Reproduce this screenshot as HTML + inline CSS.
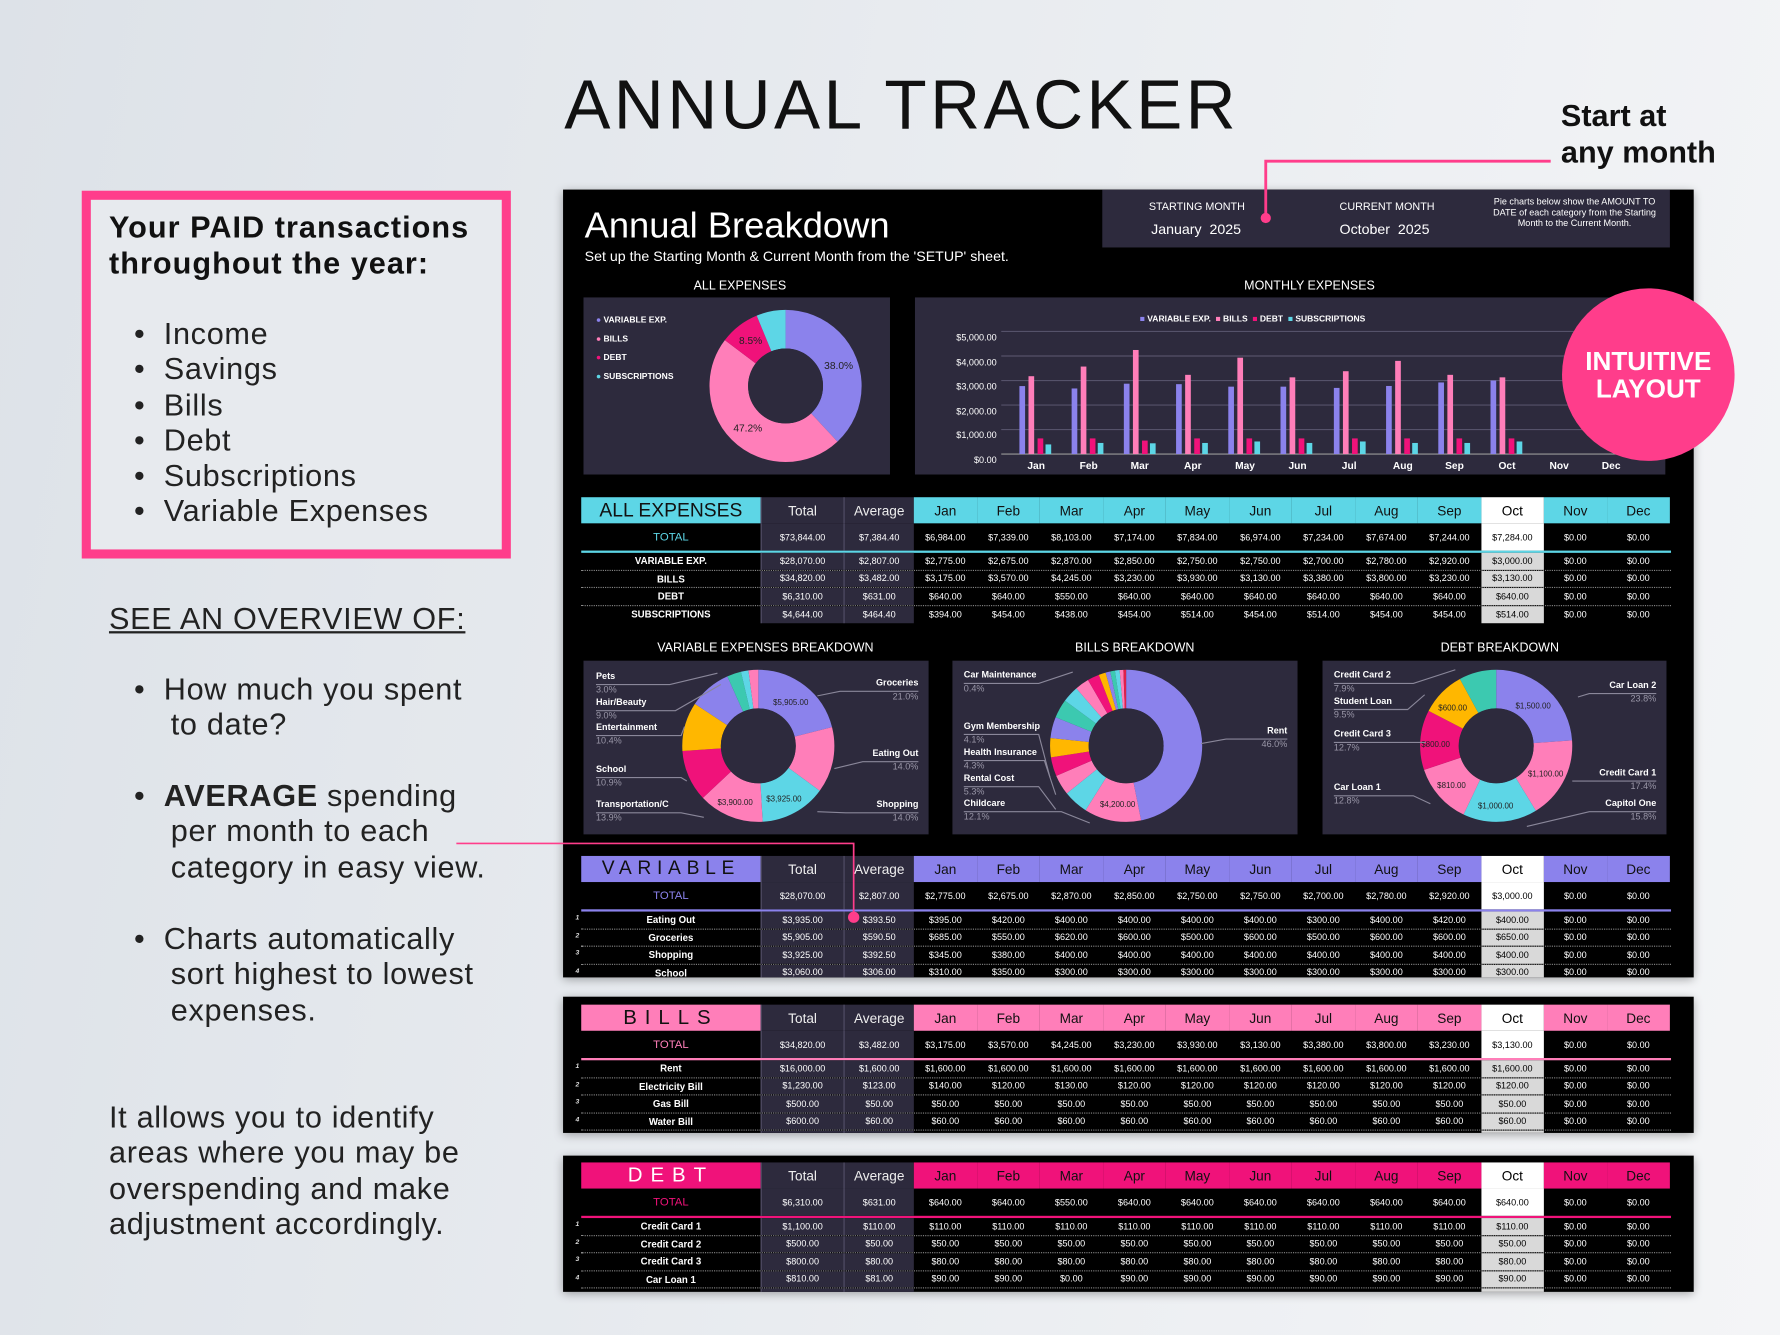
<!DOCTYPE html>
<html><head><meta charset="utf-8"><style>
*{margin:0;padding:0;box-sizing:border-box}
html,body{width:1780px;height:1335px;overflow:hidden}
body{background:linear-gradient(100deg,#dde2e8 0%,#e9ecf0 50%,#f4f5f7 100%);font-family:"Liberation Sans",sans-serif}
#w{position:absolute;left:0;top:0;width:1568px;height:1176px;transform:scale(1.1352);transform-origin:0 0}
.a{position:absolute;white-space:nowrap}
.pan{position:absolute;left:496px;width:996px;background:#000;overflow:hidden;box-shadow:0 2px 8px rgba(0,0,0,.35)}
.lt{color:#fff}
.sec{position:absolute;left:16px;width:960px}
.r{display:grid;grid-template-columns:158px 73px 62px repeat(12,55.5px);font-size:8px;color:#fff;text-align:center}
.r>*{display:flex;align-items:center;justify-content:center;font-style:normal;font-weight:normal}
.r>i{background:#2d2a3d;border-left:1px solid #55516a}
.r>b{font-weight:bold}
.r>:nth-child(13){background:#d9d9d9;color:#000}
.h{height:23px;font-size:12px}
.h>*{background:var(--c);color:#111}
.h>i{color:#eee}
.h>:nth-child(13){background:#fff;color:#000}
.t{height:24px}
.t>:nth-child(13){background:#fff;color:#000}
.t>b{color:var(--c);font-weight:normal;font-size:10px}
.ln{height:2px;background:var(--c)}
.d{height:15.5px;border-bottom:1px dotted #888;position:relative}
.d>b{font-size:8.5px}
.n{position:absolute;left:-5px;top:3px;font-size:6px;color:#ddd}
.lb{position:absolute;font-size:8px;font-weight:bold;color:#fff;white-space:nowrap}
.pc{position:absolute;font-size:8px;color:#9a97a8;white-space:nowrap}
.rt{text-align:right}
.lt27{font-size:27px;line-height:31.3px;color:#222;letter-spacing:0.6px}
</style></head><body><div id="w">

<div class="a" style="left:497px;top:57px;font-size:61px;letter-spacing:3px;color:#111;font-weight:normal">ANNUAL TRACKER</div>
<div class="a" style="left:1375px;top:86px;font-size:27px;font-weight:bold;line-height:32px;color:#111">Start at<br>any month</div>

<div class="a" style="left:72px;top:168px;width:378px;height:324px;border:8px solid #ff3d8b;background:#e7eaee"></div>
<div class="a" style="left:96px;top:184px;font-size:27px;font-weight:bold;line-height:32px;color:#111;letter-spacing:0.9px">Your PAID transactions<br>throughout the year:</div>
<div class="a lt27" style="left:118px;top:279px">•&nbsp; Income<br>•&nbsp; Savings<br>•&nbsp; Bills<br>•&nbsp; Debt<br>•&nbsp; Subscriptions<br>•&nbsp; Variable Expenses</div>
<div class="a lt27" style="left:96px;top:530px;text-decoration:underline">SEE AN OVERVIEW OF:</div>
<div class="a lt27" style="left:118px;top:592px">•&nbsp; How much you spent<br>&nbsp;&nbsp;&nbsp;&nbsp;to date?</div>
<div class="a lt27" style="left:118px;top:686px">•&nbsp; <b>AVERAGE</b> spending<br>&nbsp;&nbsp;&nbsp;&nbsp;per month to each<br>&nbsp;&nbsp;&nbsp;&nbsp;category in easy view.</div>
<div class="a lt27" style="left:118px;top:812px">•&nbsp; Charts automatically<br>&nbsp;&nbsp;&nbsp;&nbsp;sort highest to lowest<br>&nbsp;&nbsp;&nbsp;&nbsp;expenses.</div>
<div class="a lt27" style="left:96px;top:969px">It allows you to identify<br>areas where you may be<br>overspending and make<br>adjustment accordingly.</div>

<!-- PANEL 1 -->
<div class="pan" style="top:167px;height:694px">
 <div class="a lt" style="left:19px;top:13px;font-size:32px">Annual Breakdown</div>
 <div class="a lt" style="left:19px;top:52px;font-size:12.5px">Set up the Starting Month &amp; Current Month from the 'SETUP' sheet.</div>
 <div class="a" style="left:475px;top:0;width:500px;height:51px;background:#2d2a3d"></div>
 <div class="a lt" style="left:516px;top:10px;font-size:9.5px">STARTING MONTH</div>
 <div class="a lt" style="left:518px;top:28px;font-size:12.5px">January&nbsp; 2025</div>
 <div class="a lt" style="left:684px;top:10px;font-size:9.5px">CURRENT MONTH</div>
 <div class="a lt" style="left:684px;top:28px;font-size:12.5px">October&nbsp; 2025</div>
 <div class="a lt" style="left:811px;top:6px;width:160px;font-size:8px;line-height:9.5px;text-align:center;white-space:normal">Pie charts below show the AMOUNT TO DATE of each category from the Starting Month to the Current Month.</div>
 <div class="a lt" style="left:115px;top:79px;font-size:11px">ALL EXPENSES</div>
 <div class="a lt" style="left:600px;top:79px;font-size:11px">MONTHLY EXPENSES</div>
 <div class="a" style="left:18px;top:95px;width:270px;height:156px;background:#2d2a3d"></div>
 <div class="a" style="left:310px;top:95px;width:661px;height:156px;background:#2d2a3d"></div>
 <div class="a lt" style="left:29px;top:107px;font-size:7.5px;font-weight:bold;line-height:16.7px"><span style="color:#8b82ec">●</span> VARIABLE EXP.<br><span style="color:#ff7eb9">●</span> BILLS<br><span style="color:#f0127a">●</span> DEBT<br><span style="color:#5dd6e6">●</span> SUBSCRIPTIONS</div>
 <div class="a lt" style="left:508px;top:109px;font-size:7.5px;font-weight:bold"><span style="color:#8b82ec">■</span> VARIABLE EXP.&nbsp;&nbsp;<span style="color:#ff7eb9">■</span> BILLS&nbsp;&nbsp;<span style="color:#f0127a">■</span> DEBT&nbsp;&nbsp;<span style="color:#5dd6e6">■</span> SUBSCRIPTIONS</div>
 <div class="a lt rt" style="left:322px;top:120px;width:60px;font-size:8px;line-height:21.6px">$5,000.00<br>$4,000.00<br>$3,000.00<br>$2,000.00<br>$1,000.00<br>$0.00</div>
 <div class="a lt" style="left:0;top:238px;font-size:9px;font-weight:bold;width:1000px">
  <span class="a" style="left:409px">Jan</span><span class="a" style="left:455px">Feb</span><span class="a" style="left:500px">Mar</span><span class="a" style="left:547px">Apr</span><span class="a" style="left:592px">May</span><span class="a" style="left:639px">Jun</span><span class="a" style="left:686px">Jul</span><span class="a" style="left:731px">Aug</span><span class="a" style="left:777px">Sep</span><span class="a" style="left:824px">Oct</span><span class="a" style="left:869px">Nov</span><span class="a" style="left:915px">Dec</span>
 </div>

 <div class="sec" style="top:271px;--c:#5dd6e6">
  <div class="r h"><b style="font-size:17px;font-weight:normal">ALL EXPENSES</b><i>Total</i><i>Average</i><span>Jan</span><span>Feb</span><span>Mar</span><span>Apr</span><span>May</span><span>Jun</span><span>Jul</span><span>Aug</span><span>Sep</span><span>Oct</span><span>Nov</span><span>Dec</span></div>
  <div class="r t"><b>TOTAL</b><i>$73,844.00</i><i>$7,384.40</i><span>$6,984.00</span><span>$7,339.00</span><span>$8,103.00</span><span>$7,174.00</span><span>$7,834.00</span><span>$6,974.00</span><span>$7,234.00</span><span>$7,674.00</span><span>$7,244.00</span><span>$7,284.00</span><span>$0.00</span><span>$0.00</span></div>
  <div class="ln"></div>
  <div class="r d"><b>VARIABLE EXP.</b><i>$28,070.00</i><i>$2,807.00</i><span>$2,775.00</span><span>$2,675.00</span><span>$2,870.00</span><span>$2,850.00</span><span>$2,750.00</span><span>$2,750.00</span><span>$2,700.00</span><span>$2,780.00</span><span>$2,920.00</span><span>$3,000.00</span><span>$0.00</span><span>$0.00</span></div>
  <div class="r d"><b>BILLS</b><i>$34,820.00</i><i>$3,482.00</i><span>$3,175.00</span><span>$3,570.00</span><span>$4,245.00</span><span>$3,230.00</span><span>$3,930.00</span><span>$3,130.00</span><span>$3,380.00</span><span>$3,800.00</span><span>$3,230.00</span><span>$3,130.00</span><span>$0.00</span><span>$0.00</span></div>
  <div class="r d"><b>DEBT</b><i>$6,310.00</i><i>$631.00</i><span>$640.00</span><span>$640.00</span><span>$550.00</span><span>$640.00</span><span>$640.00</span><span>$640.00</span><span>$640.00</span><span>$640.00</span><span>$640.00</span><span>$640.00</span><span>$0.00</span><span>$0.00</span></div>
  <div class="r d" style="border-bottom:none"><b>SUBSCRIPTIONS</b><i>$4,644.00</i><i>$464.40</i><span>$394.00</span><span>$454.00</span><span>$438.00</span><span>$454.00</span><span>$514.00</span><span>$454.00</span><span>$514.00</span><span>$454.00</span><span>$454.00</span><span>$514.00</span><span>$0.00</span><span>$0.00</span></div>
 </div>

 <div class="a lt" style="left:83px;top:398px;font-size:11px">VARIABLE EXPENSES BREAKDOWN</div>
 <div class="a lt" style="left:451px;top:398px;font-size:11px">BILLS BREAKDOWN</div>
 <div class="a lt" style="left:773px;top:398px;font-size:11px">DEBT BREAKDOWN</div>
 <div class="a" style="left:18px;top:415px;width:304px;height:153px;background:#2d2a3d"></div>
 <div class="a" style="left:343px;top:415px;width:304px;height:153px;background:#2d2a3d"></div>
 <div class="a" style="left:669px;top:415px;width:303px;height:153px;background:#2d2a3d"></div>

 <div class="sec" style="top:587px;--c:#8b82ec">
  <div class="r h"><b style="font-size:17px;font-weight:normal;letter-spacing:5px;align-items:flex-start;padding-top:1px">VARIABLE</b><i>Total</i><i>Average</i><span>Jan</span><span>Feb</span><span>Mar</span><span>Apr</span><span>May</span><span>Jun</span><span>Jul</span><span>Aug</span><span>Sep</span><span>Oct</span><span>Nov</span><span>Dec</span></div>
  <div class="r t"><b>TOTAL</b><i>$28,070.00</i><i>$2,807.00</i><span>$2,775.00</span><span>$2,675.00</span><span>$2,870.00</span><span>$2,850.00</span><span>$2,750.00</span><span>$2,750.00</span><span>$2,700.00</span><span>$2,780.00</span><span>$2,920.00</span><span>$3,000.00</span><span>$0.00</span><span>$0.00</span></div>
  <div class="ln"></div>
  <div class="r d"><b>Eating Out<em class="n">1</em></b><i>$3,935.00</i><i>$393.50</i><span>$395.00</span><span>$420.00</span><span>$400.00</span><span>$400.00</span><span>$400.00</span><span>$400.00</span><span>$300.00</span><span>$400.00</span><span>$420.00</span><span>$400.00</span><span>$0.00</span><span>$0.00</span></div>
  <div class="r d"><b>Groceries<em class="n">2</em></b><i>$5,905.00</i><i>$590.50</i><span>$685.00</span><span>$550.00</span><span>$620.00</span><span>$600.00</span><span>$500.00</span><span>$600.00</span><span>$500.00</span><span>$600.00</span><span>$600.00</span><span>$650.00</span><span>$0.00</span><span>$0.00</span></div>
  <div class="r d"><b>Shopping<em class="n">3</em></b><i>$3,925.00</i><i>$392.50</i><span>$345.00</span><span>$380.00</span><span>$400.00</span><span>$400.00</span><span>$400.00</span><span>$400.00</span><span>$400.00</span><span>$400.00</span><span>$400.00</span><span>$400.00</span><span>$0.00</span><span>$0.00</span></div>
  <div class="r d"><b>School<em class="n">4</em></b><i>$3,060.00</i><i>$306.00</i><span>$310.00</span><span>$350.00</span><span>$300.00</span><span>$300.00</span><span>$300.00</span><span>$300.00</span><span>$300.00</span><span>$300.00</span><span>$300.00</span><span>$300.00</span><span>$0.00</span><span>$0.00</span></div>
 </div>
</div>

<div class="pan" style="top:878px;height:120px">
 <div class="sec" style="top:7px;--c:#ff7eb9">
  <div class="r h"><b style="font-size:18px;letter-spacing:7px;font-weight:normal">BILLS</b><i>Total</i><i>Average</i><span>Jan</span><span>Feb</span><span>Mar</span><span>Apr</span><span>May</span><span>Jun</span><span>Jul</span><span>Aug</span><span>Sep</span><span>Oct</span><span>Nov</span><span>Dec</span></div>
  <div class="r t"><b>TOTAL</b><i>$34,820.00</i><i>$3,482.00</i><span>$3,175.00</span><span>$3,570.00</span><span>$4,245.00</span><span>$3,230.00</span><span>$3,930.00</span><span>$3,130.00</span><span>$3,380.00</span><span>$3,800.00</span><span>$3,230.00</span><span>$3,130.00</span><span>$0.00</span><span>$0.00</span></div>
  <div class="ln"></div>
  <div class="r d"><b>Rent<em class="n">1</em></b><i>$16,000.00</i><i>$1,600.00</i><span>$1,600.00</span><span>$1,600.00</span><span>$1,600.00</span><span>$1,600.00</span><span>$1,600.00</span><span>$1,600.00</span><span>$1,600.00</span><span>$1,600.00</span><span>$1,600.00</span><span>$1,600.00</span><span>$0.00</span><span>$0.00</span></div>
  <div class="r d"><b>Electricity Bill<em class="n">2</em></b><i>$1,230.00</i><i>$123.00</i><span>$140.00</span><span>$120.00</span><span>$130.00</span><span>$120.00</span><span>$120.00</span><span>$120.00</span><span>$120.00</span><span>$120.00</span><span>$120.00</span><span>$120.00</span><span>$0.00</span><span>$0.00</span></div>
  <div class="r d"><b>Gas Bill<em class="n">3</em></b><i>$500.00</i><i>$50.00</i><span>$50.00</span><span>$50.00</span><span>$50.00</span><span>$50.00</span><span>$50.00</span><span>$50.00</span><span>$50.00</span><span>$50.00</span><span>$50.00</span><span>$50.00</span><span>$0.00</span><span>$0.00</span></div>
  <div class="r d"><b>Water Bill<em class="n">4</em></b><i>$600.00</i><i>$60.00</i><span>$60.00</span><span>$60.00</span><span>$60.00</span><span>$60.00</span><span>$60.00</span><span>$60.00</span><span>$60.00</span><span>$60.00</span><span>$60.00</span><span>$60.00</span><span>$0.00</span><span>$0.00</span></div>
  <div class="r d"><b>Internet<em class="n">5</em></b><i>$1,050.00</i><i>$105.00</i><span>$105.00</span><span>$105.00</span><span>$105.00</span><span>$105.00</span><span>$105.00</span><span>$105.00</span><span>$105.00</span><span>$105.00</span><span>$105.00</span><span>$105.00</span><span>$0.00</span><span>$0.00</span></div>
 </div>
</div>

<div class="pan" style="top:1018px;height:120px">
 <div class="sec" style="top:6px;--c:#f0127a">
  <div class="r h"><b style="font-size:18px;letter-spacing:7px;font-weight:normal;color:#fff">DEBT</b><i>Total</i><i>Average</i><span>Jan</span><span>Feb</span><span>Mar</span><span>Apr</span><span>May</span><span>Jun</span><span>Jul</span><span>Aug</span><span>Sep</span><span>Oct</span><span>Nov</span><span>Dec</span></div>
  <div class="r t"><b>TOTAL</b><i>$6,310.00</i><i>$631.00</i><span>$640.00</span><span>$640.00</span><span>$550.00</span><span>$640.00</span><span>$640.00</span><span>$640.00</span><span>$640.00</span><span>$640.00</span><span>$640.00</span><span>$640.00</span><span>$0.00</span><span>$0.00</span></div>
  <div class="ln"></div>
  <div class="r d"><b>Credit Card 1<em class="n">1</em></b><i>$1,100.00</i><i>$110.00</i><span>$110.00</span><span>$110.00</span><span>$110.00</span><span>$110.00</span><span>$110.00</span><span>$110.00</span><span>$110.00</span><span>$110.00</span><span>$110.00</span><span>$110.00</span><span>$0.00</span><span>$0.00</span></div>
  <div class="r d"><b>Credit Card 2<em class="n">2</em></b><i>$500.00</i><i>$50.00</i><span>$50.00</span><span>$50.00</span><span>$50.00</span><span>$50.00</span><span>$50.00</span><span>$50.00</span><span>$50.00</span><span>$50.00</span><span>$50.00</span><span>$50.00</span><span>$0.00</span><span>$0.00</span></div>
  <div class="r d"><b>Credit Card 3<em class="n">3</em></b><i>$800.00</i><i>$80.00</i><span>$80.00</span><span>$80.00</span><span>$80.00</span><span>$80.00</span><span>$80.00</span><span>$80.00</span><span>$80.00</span><span>$80.00</span><span>$80.00</span><span>$80.00</span><span>$0.00</span><span>$0.00</span></div>
  <div class="r d"><b>Car Loan 1<em class="n">4</em></b><i>$810.00</i><i>$81.00</i><span>$90.00</span><span>$90.00</span><span>$0.00</span><span>$90.00</span><span>$90.00</span><span>$90.00</span><span>$90.00</span><span>$90.00</span><span>$90.00</span><span>$90.00</span><span>$0.00</span><span>$0.00</span></div>
  <div class="r d"><b>Car Loan 2<em class="n">5</em></b><i>$1,500.00</i><i>$150.00</i><span>$150.00</span><span>$150.00</span><span>$150.00</span><span>$150.00</span><span>$150.00</span><span>$150.00</span><span>$150.00</span><span>$150.00</span><span>$150.00</span><span>$150.00</span><span>$0.00</span><span>$0.00</span></div>
 </div>
</div>

<svg class="a" style="left:0;top:0" width="1568" height="1176" viewBox="0 0 1568 1176">
 <g stroke="#55526a" stroke-width="1"><line x1="882" y1="292" x2="1440" y2="292"/><line x1="882" y1="313.6" x2="1440" y2="313.6"/><line x1="882" y1="335.2" x2="1440" y2="335.2"/><line x1="882" y1="356.8" x2="1440" y2="356.8"/><line x1="882" y1="378.4" x2="1440" y2="378.4"/></g>
 <line x1="882" y1="400" x2="1440" y2="400" stroke="#999"/>
 <g transform="translate(0,400) scale(1,-1)">
  <g fill="#8b82ec"><rect x="898" width="5" height="59.9"/><rect x="944" width="5" height="57.8"/><rect x="990" width="5" height="62"/><rect x="1036" width="5" height="61.6"/><rect x="1082" width="5" height="59.4"/><rect x="1128" width="5" height="59.4"/><rect x="1175" width="5" height="58.3"/><rect x="1221" width="5" height="60"/><rect x="1267" width="5" height="63.1"/><rect x="1313" width="5" height="64.8"/></g>
  <g fill="#ff7eb9"><rect x="906" width="5" height="68.6"/><rect x="952" width="5" height="77.1"/><rect x="998" width="5" height="91.7"/><rect x="1044" width="5" height="69.8"/><rect x="1090" width="5" height="84.9"/><rect x="1136" width="5" height="67.6"/><rect x="1183" width="5" height="73"/><rect x="1229" width="5" height="82.1"/><rect x="1275" width="5" height="69.8"/><rect x="1321" width="5" height="67.6"/></g>
  <g fill="#f0127a"><rect x="914" width="5" height="13.8"/><rect x="960" width="5" height="13.8"/><rect x="1006" width="5" height="11.9"/><rect x="1052" width="5" height="13.8"/><rect x="1098" width="5" height="13.8"/><rect x="1144" width="5" height="13.8"/><rect x="1191" width="5" height="13.8"/><rect x="1237" width="5" height="13.8"/><rect x="1283" width="5" height="13.8"/><rect x="1329" width="5" height="13.8"/></g>
  <g fill="#5dd6e6"><rect x="921" width="5" height="8.5"/><rect x="967" width="5" height="9.8"/><rect x="1013" width="5" height="9.5"/><rect x="1059" width="5" height="9.8"/><rect x="1105" width="5" height="11.1"/><rect x="1151" width="5" height="9.8"/><rect x="1198" width="5" height="11.1"/><rect x="1244" width="5" height="9.8"/><rect x="1290" width="5" height="9.8"/><rect x="1336" width="5" height="11.1"/></g>
 </g>
 <g transform="rotate(-90 692 340)" fill="none" stroke-width="34">
  <circle cx="692" cy="340" r="50" stroke="#8b82ec" stroke-dasharray="119.4 314.16"/>
  <circle cx="692" cy="340" r="50" stroke="#ff7eb9" stroke-dasharray="0 119.4 148.3 314.16"/>
  <circle cx="692" cy="340" r="50" stroke="#f0127a" stroke-dasharray="0 267.7 26.7 314.16"/>
  <circle cx="692" cy="340" r="50" stroke="#5dd6e6" stroke-dasharray="0 294.4 19.8 314.16"/>
 </g>
 <circle cx="692" cy="340" r="33" fill="#2d2a3d"/>
 <g font-family="Liberation Sans" font-size="9" fill="#222"><text x="726" y="325">38.0%</text><text x="646" y="380">47.2%</text><text x="651" y="303">8.5%</text></g>
 <g transform="rotate(-90 668 657)" fill="none" stroke-width="34">
  <circle cx="668" cy="657" r="50" stroke="#8b82ec" stroke-dasharray="66 314.16"/>
  <circle cx="668" cy="657" r="50" stroke="#ff7eb9" stroke-dasharray="0 66 44 314.16"/>
  <circle cx="668" cy="657" r="50" stroke="#5dd6e6" stroke-dasharray="0 110 44 314.16"/>
  <circle cx="668" cy="657" r="50" stroke="#ff7eb9" stroke-dasharray="0 154 43.7 314.16"/>
  <circle cx="668" cy="657" r="50" stroke="#f0127a" stroke-dasharray="0 197.7 34.2 314.16"/>
  <circle cx="668" cy="657" r="50" stroke="#ffb700" stroke-dasharray="0 231.9 32.7 314.16"/>
  <circle cx="668" cy="657" r="50" stroke="#8b82ec" stroke-dasharray="0 264.6 28.3 314.16"/>
  <circle cx="668" cy="657" r="50" stroke="#3cc9b0" stroke-dasharray="0 292.9 9.4 314.16"/>
  <circle cx="668" cy="657" r="50" stroke="#5dd6e6" stroke-dasharray="0 302.3 5 314.16"/>
  <circle cx="668" cy="657" r="50" stroke="#ff7eb9" stroke-dasharray="0 307.3 6.9 314.16"/>
 </g>
 <circle cx="668" cy="657" r="33" fill="#2d2a3d"/>
 <g transform="rotate(-90 992 657)" fill="none" stroke-width="34">
  <circle cx="992" cy="657" r="50" stroke="#8b82ec" stroke-dasharray="147 314.16"/>
  <circle cx="992" cy="657" r="50" stroke="#ff7eb9" stroke-dasharray="0 147 38 314.16"/>
  <circle cx="992" cy="657" r="50" stroke="#5dd6e6" stroke-dasharray="0 185 16.6 314.16"/>
  <circle cx="992" cy="657" r="50" stroke="#ff7eb9" stroke-dasharray="0 201.6 13.5 314.16"/>
  <circle cx="992" cy="657" r="50" stroke="#f0127a" stroke-dasharray="0 215.1 12.6 314.16"/>
  <circle cx="992" cy="657" r="50" stroke="#ffb700" stroke-dasharray="0 227.7 12.9 314.16"/>
  <circle cx="992" cy="657" r="50" stroke="#8b82ec" stroke-dasharray="0 240.6 14 314.16"/>
  <circle cx="992" cy="657" r="50" stroke="#3cc9b0" stroke-dasharray="0 254.6 12.6 314.16"/>
  <circle cx="992" cy="657" r="50" stroke="#5dd6e6" stroke-dasharray="0 267.2 11 314.16"/>
  <circle cx="992" cy="657" r="50" stroke="#ff7eb9" stroke-dasharray="0 278.2 9.4 314.16"/>
  <circle cx="992" cy="657" r="50" stroke="#f0127a" stroke-dasharray="0 287.6 7.9 314.16"/>
  <circle cx="992" cy="657" r="50" stroke="#ffb700" stroke-dasharray="0 295.5 4.7 314.16"/>
  <circle cx="992" cy="657" r="50" stroke="#8b82ec" stroke-dasharray="0 300.2 3.1 314.16"/>
  <circle cx="992" cy="657" r="50" stroke="#3cc9b0" stroke-dasharray="0 303.3 3.1 314.16"/>
  <circle cx="992" cy="657" r="50" stroke="#5dd6e6" stroke-dasharray="0 306.4 3.1 314.16"/>
  <circle cx="992" cy="657" r="50" stroke="#ff7eb9" stroke-dasharray="0 309.5 2.5 314.16"/>
  <circle cx="992" cy="657" r="50" stroke="#e0204a" stroke-dasharray="0 312 2.2 314.16"/>
 </g>
 <circle cx="992" cy="657" r="33" fill="#2d2a3d"/>
 <g transform="rotate(-90 1318 657)" fill="none" stroke-width="34">
  <circle cx="1318" cy="657" r="50" stroke="#8b82ec" stroke-dasharray="74.8 314.16"/>
  <circle cx="1318" cy="657" r="50" stroke="#ff7eb9" stroke-dasharray="0 74.8 54.7 314.16"/>
  <circle cx="1318" cy="657" r="50" stroke="#5dd6e6" stroke-dasharray="0 129.5 49.6 314.16"/>
  <circle cx="1318" cy="657" r="50" stroke="#ff7eb9" stroke-dasharray="0 179.1 40.2 314.16"/>
  <circle cx="1318" cy="657" r="50" stroke="#f0127a" stroke-dasharray="0 219.3 39.9 314.16"/>
  <circle cx="1318" cy="657" r="50" stroke="#ffb700" stroke-dasharray="0 259.2 29.8 314.16"/>
  <circle cx="1318" cy="657" r="50" stroke="#3cc9b0" stroke-dasharray="0 289 25.2 314.16"/>
 </g>
 <circle cx="1318" cy="657" r="33" fill="#2d2a3d"/>
 <g font-family="Liberation Sans" font-size="7" fill="#222">
  <text x="681" y="621">$5,905.00</text><text x="632" y="709">$3,900.00</text><text x="675" y="706">$3,925.00</text>
  <text x="969" y="711">$4,200.00</text>
  <text x="1335" y="624">$1,500.00</text><text x="1267" y="626">$600.00</text><text x="1252" y="658">$800.00</text><text x="1346" y="684">$1,100.00</text><text x="1266" y="694">$810.00</text><text x="1302" y="712">$1,000.00</text>
 </g>
 <g stroke="#8a879a" stroke-width="1" fill="none">
  <polyline points="525,603 590,603 632,593"/><polyline points="525,626 595,626 635,603"/><polyline points="525,648 600,648 603,640"/><polyline points="525,685 600,685 605,688"/><polyline points="525,716 600,716 620,720"/>
  <polyline points="809,609 740,609 720,613"/><polyline points="809,671 760,671 735,677"/><polyline points="809,716 745,716 720,715"/>
  <polyline points="849,602 915,602 945,592"/><polyline points="849,647 915,647 925,685"/><polyline points="849,670 920,670 930,700"/><polyline points="849,693 915,693 930,713"/><polyline points="849,715 935,715 960,725"/><polyline points="1134,651 1080,651 1058,655"/>
  <polyline points="1175,602 1245,602 1282,590"/><polyline points="1175,625 1240,625 1255,612"/><polyline points="1175,654 1245,654 1256,654"/><polyline points="1175,701 1245,701 1260,708"/>
  <polyline points="1459,611 1400,611 1390,614"/><polyline points="1459,688 1395,688 1385,688"/><polyline points="1459,715 1400,715 1345,728"/>
 </g>
 <polyline points="1115,192 1115,142 1366,142" fill="none" stroke="#ff3d8b" stroke-width="2.5"/>
 <circle cx="1115" cy="192" r="4.5" fill="#ff3d8b"/>
 <polyline points="402,743 752,743 752,808" fill="none" stroke="#ff3d8b" stroke-width="1.5"/>
 <circle cx="752" cy="808" r="5" fill="#ff3d8b"/>
 <circle cx="1452" cy="330" r="76" fill="#ff3d8b"/>
 <text x="1452" y="326" text-anchor="middle" font-family="Liberation Sans" font-weight="bold" font-size="23" fill="#fff">INTUITIVE</text>
 <text x="1452" y="350" text-anchor="middle" font-family="Liberation Sans" font-weight="bold" font-size="23" fill="#fff">LAYOUT</text>
</svg>

<div class="lb" style="left:525px;top:591px">Pets</div><div class="pc" style="left:525px;top:603px">3.0%</div>
<div class="lb" style="left:525px;top:614px">Hair/Beauty</div><div class="pc" style="left:525px;top:626px">9.0%</div>
<div class="lb" style="left:525px;top:636px">Entertainment</div><div class="pc" style="left:525px;top:648px">10.4%</div>
<div class="lb" style="left:525px;top:673px">School</div><div class="pc" style="left:525px;top:685px">10.9%</div>
<div class="lb" style="left:525px;top:704px">Transportation/C</div><div class="pc" style="left:525px;top:716px">13.9%</div>
<div class="lb rt" style="left:709px;width:100px;top:597px">Groceries</div><div class="pc rt" style="left:709px;width:100px;top:609px">21.0%</div>
<div class="lb rt" style="left:709px;width:100px;top:659px">Eating Out</div><div class="pc rt" style="left:709px;width:100px;top:671px">14.0%</div>
<div class="lb rt" style="left:709px;width:100px;top:704px">Shopping</div><div class="pc rt" style="left:709px;width:100px;top:716px">14.0%</div>
<div class="lb" style="left:849px;top:590px">Car Maintenance</div><div class="pc" style="left:849px;top:602px">0.4%</div>
<div class="lb" style="left:849px;top:635px">Gym Membership</div><div class="pc" style="left:849px;top:647px">4.1%</div>
<div class="lb" style="left:849px;top:658px">Health Insurance</div><div class="pc" style="left:849px;top:670px">4.3%</div>
<div class="lb" style="left:849px;top:681px">Rental Cost</div><div class="pc" style="left:849px;top:693px">5.3%</div>
<div class="lb" style="left:849px;top:703px">Childcare</div><div class="pc" style="left:849px;top:715px">12.1%</div>
<div class="lb rt" style="left:1034px;width:100px;top:639px">Rent</div><div class="pc rt" style="left:1034px;width:100px;top:651px">46.0%</div>
<div class="lb" style="left:1175px;top:590px">Credit Card 2</div><div class="pc" style="left:1175px;top:602px">7.9%</div>
<div class="lb" style="left:1175px;top:613px">Student Loan</div><div class="pc" style="left:1175px;top:625px">9.5%</div>
<div class="lb" style="left:1175px;top:642px">Credit Card 3</div><div class="pc" style="left:1175px;top:654px">12.7%</div>
<div class="lb" style="left:1175px;top:689px">Car Loan 1</div><div class="pc" style="left:1175px;top:701px">12.8%</div>
<div class="lb rt" style="left:1359px;width:100px;top:599px">Car Loan 2</div><div class="pc rt" style="left:1359px;width:100px;top:611px">23.8%</div>
<div class="lb rt" style="left:1359px;width:100px;top:676px">Credit Card 1</div><div class="pc rt" style="left:1359px;width:100px;top:688px">17.4%</div>
<div class="lb rt" style="left:1359px;width:100px;top:703px">Capitol One</div><div class="pc rt" style="left:1359px;width:100px;top:715px">15.8%</div>

</div></body></html>
